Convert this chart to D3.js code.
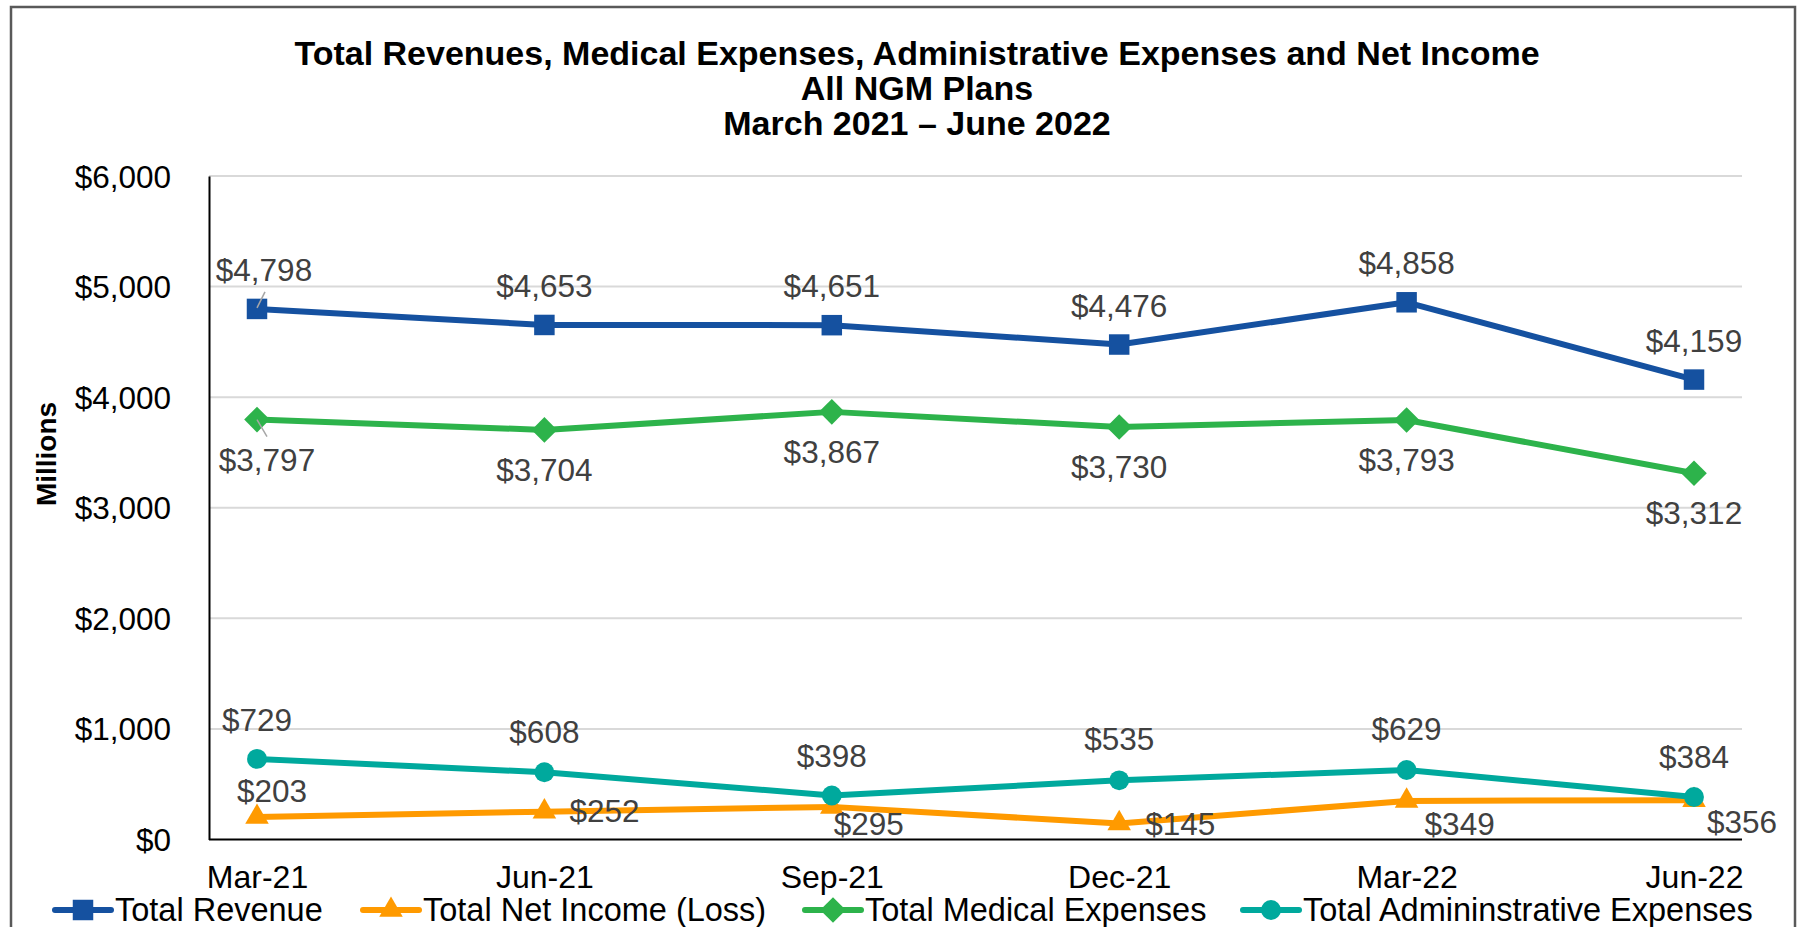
<!DOCTYPE html>
<html><head><meta charset="utf-8">
<script src="https://cdn.jsdelivr.net/npm/d3@7"></script>
<style>body{margin:0;background:#fff} svg{display:block} text{font-family:"Liberation Sans",Arial,sans-serif}</style>
</head><body><svg id="c" width="1798" height="927"></svg>
<script>
const categories = ["Mar-21","Jun-21","Sep-21","Dec-21","Mar-22","Jun-22"];
const totalRevenue = [4798,4653,4651,4476,4858,4159];
const netIncome = [203,252,295,145,349,356];
const medicalExpenses = [3797,3704,3867,3730,3793,3312];
const adminExpenses = [729,608,398,535,629,384];
const yTicks = [0,1000,2000,3000,4000,5000,6000];
const titleLines = ["Total Revenues, Medical Expenses, Administrative Expenses and Net Income","All NGM Plans","March 2021 \u2013 June 2022"];
const seriesNames = ["Total Revenue","Total Net Income (Loss)","Total Medical Expenses","Total Admininstrative Expenses"];
const yTitle = "Millions";

// label placement (dx, dy from point), anchor
const revLabelPos = [[7,-28],[0,-28],[0,-28],[0,-28],[0,-28],[0,-28]];
const netLabelPos = [[-20,-15],[25,10],[2,28],[26,12],[18,34],[13,33]];
const medLabelPos = [[10,51],[0,51],[0,51],[0,51],[0,51],[0,51]];
const admLabelPos = [[0,-28],[0,-29],[0,-28],[0,-30],[0,-30],[0,-29]];

const svg = d3.select("#c");
const plot = {l:209, r:1742, t:176, b:839.5};

// outer frame
svg.append("rect").attr("x",11).attr("y",7).attr("width",1784).attr("height",960)
  .attr("fill","#fff").attr("stroke","#595959").attr("stroke-width",2.5);

const x = d3.scalePoint().domain(categories).range([plot.l, plot.r]).padding(0.167);
const y = d3.scaleLinear().domain([0,6000]).range([plot.b, plot.t]);

// title
const title = svg.append("text").attr("text-anchor","middle").attr("font-weight","bold")
  .attr("font-size",34).attr("fill","#000");
titleLines.forEach((t,i)=>{
  title.append("tspan").attr("x",917).attr("y",65 + i*35).text(t);
});

// gridlines
svg.append("g").selectAll("line").data(yTicks.filter(d=>d>0)).join("line")
  .attr("x1",plot.l).attr("x2",plot.r).attr("y1",d=>y(d)).attr("y2",d=>y(d))
  .attr("stroke","#d9d9d9").attr("stroke-width",2);

// y axis
const yAxis = d3.axisLeft(y).tickValues(yTicks).tickSize(0).tickPadding(0)
  .tickFormat(d=>"$"+d3.format(",")(d));
const gy = svg.append("g").attr("transform",`translate(${plot.l},0)`).call(yAxis);
gy.select(".domain").attr("stroke","#000").attr("stroke-width",2);
gy.selectAll("text").attr("x",-38).attr("dy","0.35em").attr("font-size",31.5).attr("fill","#000")
  .attr("font-family","'Liberation Sans',Arial,sans-serif");

// x axis
const xAxis = d3.axisBottom(x).tickSize(0).tickPadding(0);
const gx = svg.append("g").attr("transform",`translate(0,${plot.b})`).call(xAxis);
gx.select(".domain").attr("d",`M${plot.l},0H${plot.r}`).attr("stroke","#000").attr("stroke-width",2);
gx.selectAll("text").attr("y",48).attr("dy",0).attr("font-size",32).attr("fill","#000")
  .attr("font-family","'Liberation Sans',Arial,sans-serif");

// y title
svg.append("text").attr("transform","translate(56,454) rotate(-90)").attr("text-anchor","middle")
  .attr("font-weight","bold").attr("font-size",28).text(yTitle);

// symbols
const diamond = {draw(ctx,size){const r=Math.sqrt(size)/2*1.25; ctx.moveTo(0,-r);ctx.lineTo(r,0);ctx.lineTo(0,r);ctx.lineTo(-r,0);ctx.closePath();}};
const series = [
  {name:seriesNames[0], values:totalRevenue, color:"#1551A0", sym:d3.symbolSquare, size:420, lab:revLabelPos, anchor:"middle"},
  {name:seriesNames[1], values:netIncome, color:"#FF9A00", sym:d3.symbolTriangle, size:240, lab:netLabelPos, anchor:"start"},
  {name:seriesNames[2], values:medicalExpenses, color:"#2DB34B", sym:diamond, size:420, lab:medLabelPos, anchor:"middle"},
  {name:seriesNames[3], values:adminExpenses, color:"#00A99D", sym:d3.symbolCircle, size:310, lab:admLabelPos, anchor:"middle"}
];

const line = d3.line().x((d,i)=>x(categories[i])).y(d=>y(d));
series.forEach(s=>{
  const g = svg.append("g");
  g.append("path").attr("d",line(s.values)).attr("fill","none").attr("stroke",s.color)
    .attr("stroke-width",6).attr("stroke-linejoin","round");
  g.selectAll("path.m").data(s.values).join("path").attr("class","m")
    .attr("transform",(d,i)=>`translate(${x(categories[i])},${y(d)})`)
    .attr("d",d3.symbol().type(s.sym).size(s.size)).attr("fill",s.color);
});

// leader lines for Mar-21
svg.append("line").attr("x1",x(categories[0])).attr("y1",y(totalRevenue[0])-1)
  .attr("x2",x(categories[0])+8).attr("y2",y(totalRevenue[0])-17).attr("stroke","#a6a6a6").attr("stroke-width",1.5);
svg.append("line").attr("x1",x(categories[0])).attr("y1",y(medicalExpenses[0]))
  .attr("x2",x(categories[0])+10).attr("y2",y(medicalExpenses[0])+17).attr("stroke","#a6a6a6").attr("stroke-width",1.5);

// data labels
series.forEach(s=>{
  svg.append("g").selectAll("text").data(s.values).join("text")
    .attr("x",(d,i)=>x(categories[i])+s.lab[i][0]).attr("y",(d,i)=>y(d)+s.lab[i][1])
    .attr("text-anchor",s.anchor).attr("font-size",31.5).attr("fill","#404040")
    .text(d=>"$"+d3.format(",")(d));
});

// legend
const legX = [55,363,805,1243];
const legY = 910;
series.forEach((s,i)=>{
  const g = svg.append("g").attr("transform",`translate(${legX[i]},${legY})`);
  g.append("line").attr("x1",0).attr("x2",56).attr("stroke",s.color).attr("stroke-width",6).attr("stroke-linecap","round");
  g.append("path").attr("transform","translate(28,0)").attr("d",d3.symbol().type(s.sym).size(s.size)).attr("fill",s.color);
  g.append("text").attr("x",60).attr("y",0).attr("dy","0.35em").attr("font-size",32.5).attr("fill","#000").text(s.name);
});
</script></body></html>
